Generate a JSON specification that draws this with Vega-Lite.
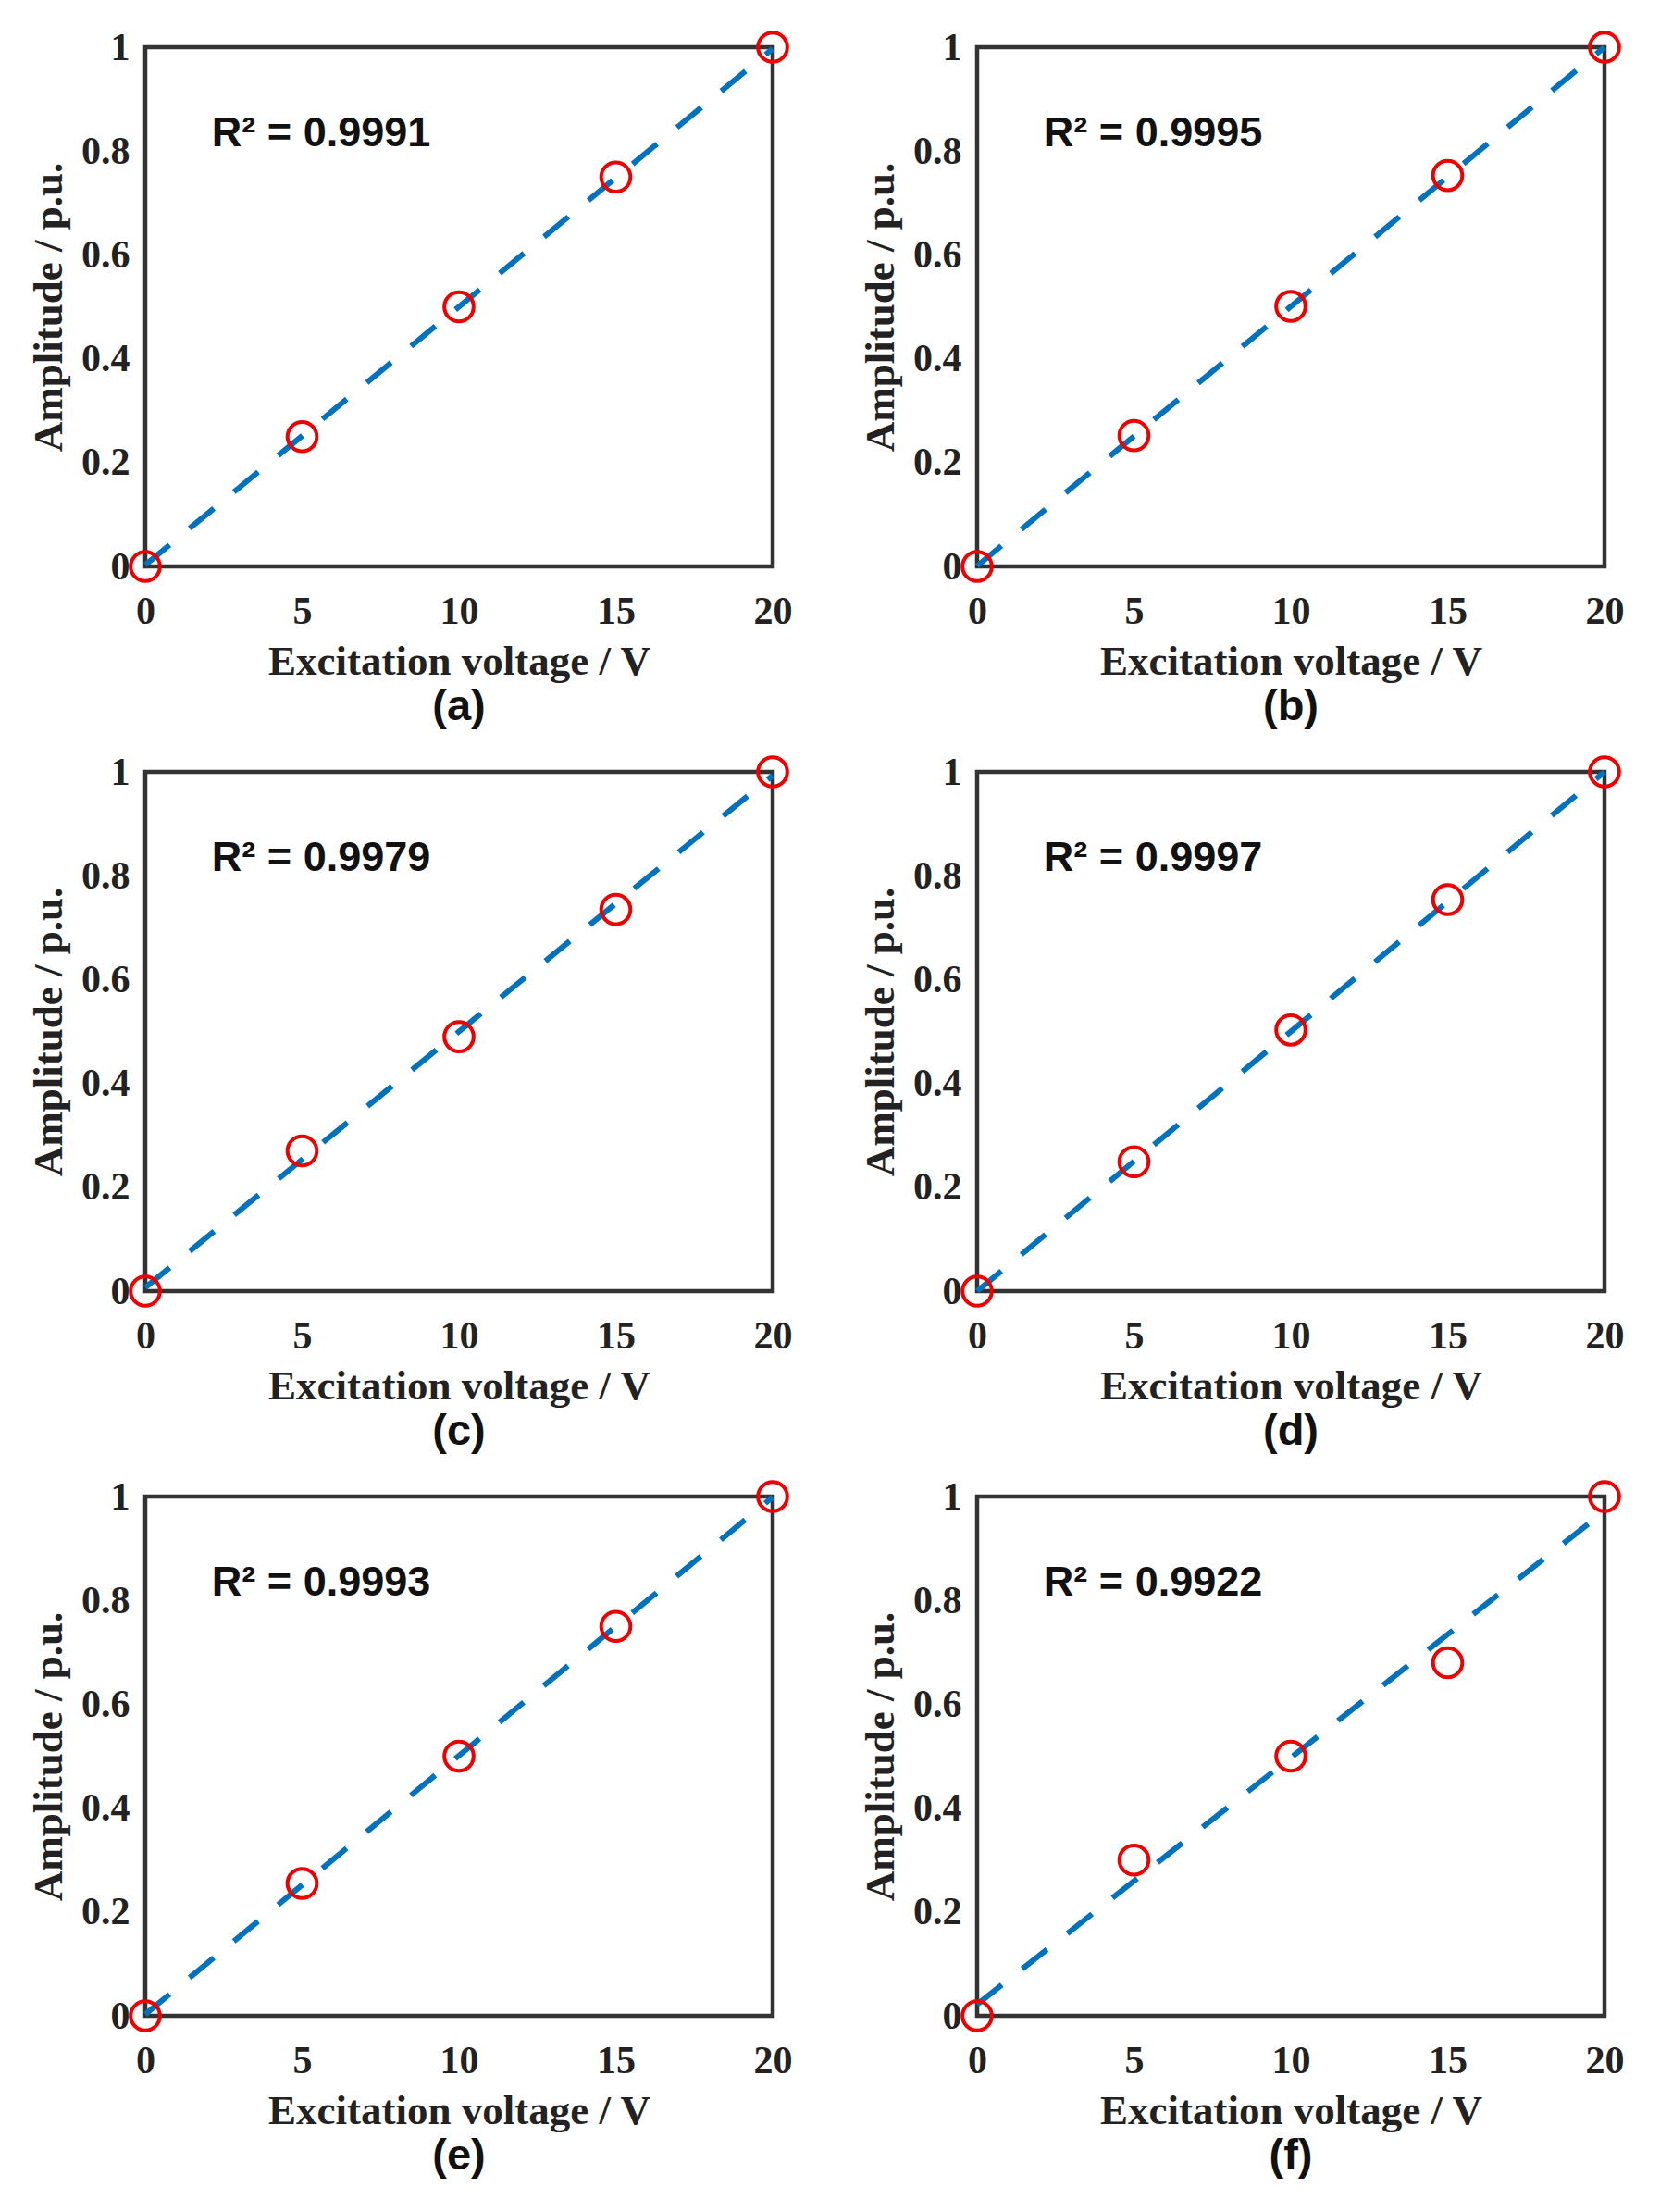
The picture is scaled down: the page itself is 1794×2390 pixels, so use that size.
{
  "$schema": "https://vega.github.io/schema/vega-lite/v6.json",
  "description": "Amplitude vs excitation voltage, six panels with linear fits",
  "background": "white",
  "padding": {"left": 28, "top": 24, "right": 5, "bottom": 5},
  "data": {
    "values": [
      {"panel": "(a)", "series": "measured", "voltage": 0, "amplitude": 0},
      {"panel": "(a)", "series": "measured", "voltage": 5, "amplitude": 0.25},
      {"panel": "(a)", "series": "measured", "voltage": 10, "amplitude": 0.5},
      {"panel": "(a)", "series": "measured", "voltage": 15, "amplitude": 0.75},
      {"panel": "(a)", "series": "measured", "voltage": 20, "amplitude": 1},
      {"panel": "(a)", "series": "fit", "voltage": 0, "amplitude": 0.003},
      {"panel": "(a)", "series": "fit", "voltage": 20, "amplitude": 0.997},
      {"panel": "(a)", "series": "label", "r2": "R² = 0.9991"},

      {"panel": "(b)", "series": "measured", "voltage": 0, "amplitude": 0},
      {"panel": "(b)", "series": "measured", "voltage": 5, "amplitude": 0.252},
      {"panel": "(b)", "series": "measured", "voltage": 10, "amplitude": 0.501},
      {"panel": "(b)", "series": "measured", "voltage": 15, "amplitude": 0.753},
      {"panel": "(b)", "series": "measured", "voltage": 20, "amplitude": 1},
      {"panel": "(b)", "series": "fit", "voltage": 0, "amplitude": 0.001},
      {"panel": "(b)", "series": "fit", "voltage": 20, "amplitude": 1.0},
      {"panel": "(b)", "series": "label", "r2": "R² = 0.9995"},

      {"panel": "(c)", "series": "measured", "voltage": 0, "amplitude": 0},
      {"panel": "(c)", "series": "measured", "voltage": 5, "amplitude": 0.27},
      {"panel": "(c)", "series": "measured", "voltage": 10, "amplitude": 0.49},
      {"panel": "(c)", "series": "measured", "voltage": 15, "amplitude": 0.735},
      {"panel": "(c)", "series": "measured", "voltage": 20, "amplitude": 1},
      {"panel": "(c)", "series": "fit", "voltage": 0, "amplitude": 0.007},
      {"panel": "(c)", "series": "fit", "voltage": 20, "amplitude": 0.993},
      {"panel": "(c)", "series": "label", "r2": "R² = 0.9979"},

      {"panel": "(d)", "series": "measured", "voltage": 0, "amplitude": 0},
      {"panel": "(d)", "series": "measured", "voltage": 5, "amplitude": 0.249},
      {"panel": "(d)", "series": "measured", "voltage": 10, "amplitude": 0.503},
      {"panel": "(d)", "series": "measured", "voltage": 15, "amplitude": 0.754},
      {"panel": "(d)", "series": "measured", "voltage": 20, "amplitude": 1},
      {"panel": "(d)", "series": "fit", "voltage": 0, "amplitude": 0.0},
      {"panel": "(d)", "series": "fit", "voltage": 20, "amplitude": 1.0},
      {"panel": "(d)", "series": "label", "r2": "R² = 0.9997"},

      {"panel": "(e)", "series": "measured", "voltage": 0, "amplitude": 0},
      {"panel": "(e)", "series": "measured", "voltage": 5, "amplitude": 0.255},
      {"panel": "(e)", "series": "measured", "voltage": 10, "amplitude": 0.5},
      {"panel": "(e)", "series": "measured", "voltage": 15, "amplitude": 0.75},
      {"panel": "(e)", "series": "measured", "voltage": 20, "amplitude": 1},
      {"panel": "(e)", "series": "fit", "voltage": 0, "amplitude": 0.003},
      {"panel": "(e)", "series": "fit", "voltage": 20, "amplitude": 0.999},
      {"panel": "(e)", "series": "label", "r2": "R² = 0.9993"},

      {"panel": "(f)", "series": "measured", "voltage": 0, "amplitude": 0},
      {"panel": "(f)", "series": "measured", "voltage": 5, "amplitude": 0.30},
      {"panel": "(f)", "series": "measured", "voltage": 10, "amplitude": 0.50},
      {"panel": "(f)", "series": "measured", "voltage": 15, "amplitude": 0.68},
      {"panel": "(f)", "series": "measured", "voltage": 20, "amplitude": 1},
      {"panel": "(f)", "series": "fit", "voltage": 0, "amplitude": 0.022},
      {"panel": "(f)", "series": "fit", "voltage": 20, "amplitude": 0.972},
      {"panel": "(f)", "series": "label", "r2": "R² = 0.9922"}
    ]
  },
  "facet": {
    "field": "panel",
    "type": "nominal",
    "title": null,
    "header": {
      "labelOrient": "bottom",
      "labelFont": "Liberation Sans",
      "labelFontWeight": "bold",
      "labelFontSize": 47,
      "labelColor": "#111",
      "labelPadding": 4
    }
  },
  "columns": 2,
  "spacing": {"column": 65, "row": 17},
  "resolve": {"axis": {"x": "independent", "y": "independent"}},
  "spec": {
    "width": 678,
    "height": 561,
    "layer": [
      {
        "transform": [{"filter": "datum.series === 'fit'"}],
        "mark": {
          "type": "line",
          "color": "#0072BD",
          "strokeWidth": 6,
          "strokeDash": [34, 28]
        },
        "encoding": {
          "x": {
            "field": "voltage",
            "type": "quantitative",
            "scale": {"domain": [0, 20], "nice": false},
            "axis": {
              "title": "Excitation voltage / V",
              "values": [0, 5, 10, 15, 20],
              "labelPadding": 28,
              "titlePadding": 11
            }
          },
          "y": {
            "field": "amplitude",
            "type": "quantitative",
            "scale": {"domain": [0, 1], "nice": false},
            "axis": {
              "title": "Amplitude / p.u.",
              "values": [0, 0.2, 0.4, 0.6, 0.8, 1],
              "format": "~g",
              "labelPadding": 17,
              "titlePadding": 12
            }
          }
        }
      },
      {
        "transform": [{"filter": "datum.series === 'measured'"}],
        "mark": {
          "type": "point",
          "shape": "circle",
          "filled": false,
          "color": "#ee0000",
          "strokeWidth": 4,
          "size": 1000,
          "opacity": 1
        },
        "encoding": {
          "x": {"field": "voltage", "type": "quantitative"},
          "y": {"field": "amplitude", "type": "quantitative"}
        }
      },
      {
        "transform": [{"filter": "datum.series === 'label'"}],
        "mark": {
          "type": "text",
          "align": "left",
          "baseline": "alphabetic",
          "font": "Liberation Sans",
          "fontWeight": "bold",
          "fontSize": 45,
          "color": "#111"
        },
        "encoding": {
          "x": {"datum": 2.12, "type": "quantitative"},
          "y": {"datum": 0.81, "type": "quantitative"},
          "text": {"field": "r2", "type": "nominal"}
        }
      }
    ]
  },
  "config": {
    "view": {"stroke": "#333", "strokeWidth": 4.5, "fill": "white"},
    "axis": {
      "grid": false,
      "ticks": false,
      "tickSize": 0,
      "domain": false,
      "labelFont": "Liberation Serif",
      "labelFontWeight": "bold",
      "labelFontSize": 42,
      "labelColor": "#222",
      "labelFlush": false,
      "labelOverlap": false,
      "titleFont": "Liberation Serif",
      "titleFontWeight": "bold",
      "titleFontSize": 45,
      "titleColor": "#222"
    }
  }
}
